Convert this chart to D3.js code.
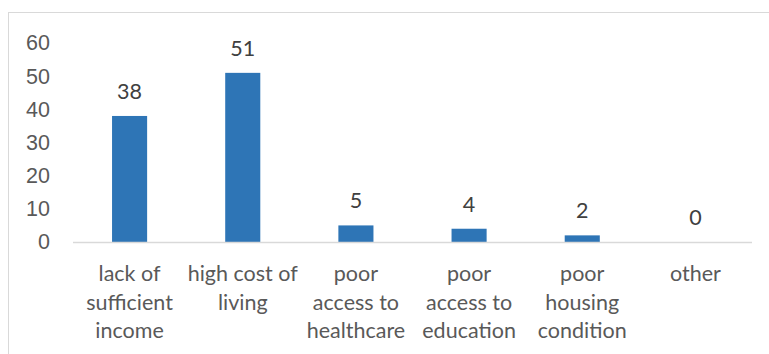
<!DOCTYPE html>
<style>
  body { margin: 0; background: #fff; }
  svg { font-family: "Lato", "Open Sans", sans-serif; }
</style>
<svg width="769" height="354"></svg>
<script src="https://d3js.org/d3.v7.min.js"></script>
<script>

var categories = ["lack of sufficient income", "high cost of living", "poor access to healthcare",
                  "poor access to education", "poor housing condition", "other"];
var labelLines = [["lack of", "sufficient", "income"], ["high cost of", "living"],
                  ["poor", "access to", "healthcare"], ["poor", "access to", "education"],
                  ["poor", "housing", "condition"], ["other"]];
var values = [38, 51, 5, 4, 2, 0];
var yTicks = [0, 10, 20, 30, 40, 50, 60];

var svg = d3.select("svg"),
    width = +svg.attr("width"),
    height = +svg.attr("height");

var margin = {left: 73, right: 17, top: 43, bottom: 112};
var fs = 21.5, txt = "#595959";

// chart frame, runs off the right and bottom edges
svg.append("rect")
  .attr("x", 8.5).attr("y", 12.5)
  .attr("width", 800).attr("height", 400)
  .attr("fill", "none").attr("stroke", "#d9d9d9");

var x = d3.scaleBand()
  .domain(categories)
  .range([margin.left, width - margin.right])
  .paddingInner(0.69).paddingOuter(0.345);

var y = d3.scaleLinear()
  .domain([0, 60])
  .range([height - margin.bottom, margin.top]);

// y tick labels
var yAxis = svg.append("g")
  .attr("transform", "translate(" + (margin.left - 23) + ",0)")
  .call(d3.axisLeft(y).tickValues(yTicks).tickSize(0).tickPadding(0));
yAxis.select(".domain").remove();
yAxis.selectAll("text")
  .attr("fill", txt).style("font-size", fs + "px").attr("font-family", null);

// bars
svg.selectAll(".bar")
  .data(values)
  .enter().append("rect")
    .attr("class", "bar")
    .attr("x", function(d, i) { return x(categories[i]); })
    .attr("width", x.bandwidth())
    .attr("y", function(d) { return y(d); })
    .attr("height", function(d) { return y(0) - y(d); })
    .attr("fill", "#2e75b6");

// baseline
svg.append("line")
  .attr("x1", margin.left).attr("x2", width - margin.right)
  .attr("y1", y(0) + 0.5).attr("y2", y(0) + 0.5)
  .attr("stroke", "#d9d9d9").attr("stroke-width", 1.5);

// value labels
svg.selectAll(".val")
  .data(values)
  .enter().append("text")
    .attr("class", "val")
    .attr("x", function(d, i) { return x(categories[i]) + x.bandwidth() / 2; })
    .attr("y", function(d) { return y(d) - 17; })
    .attr("text-anchor", "middle")
    .attr("fill", "#404040")
    .style("font-size", fs + "px")
    .text(function(d) { return d; });

// category labels
var xl = svg.selectAll(".xl")
  .data(labelLines)
  .enter().append("text")
    .attr("class", "xl")
    .attr("text-anchor", "middle")
    .attr("fill", txt)
    .style("font-size", fs + "px");
xl.selectAll("tspan")
  .data(function(d, i) { return d.map(function(s) { return {s: s, i: i}; }); })
  .enter().append("tspan")
    .attr("x", function(d) { return x(categories[d.i]) + x.bandwidth() / 2; })
    .attr("y", function(d, j) { return y(0) + 39 + j * 28.5; })
    .text(function(d) { return d.s; });

</script>
